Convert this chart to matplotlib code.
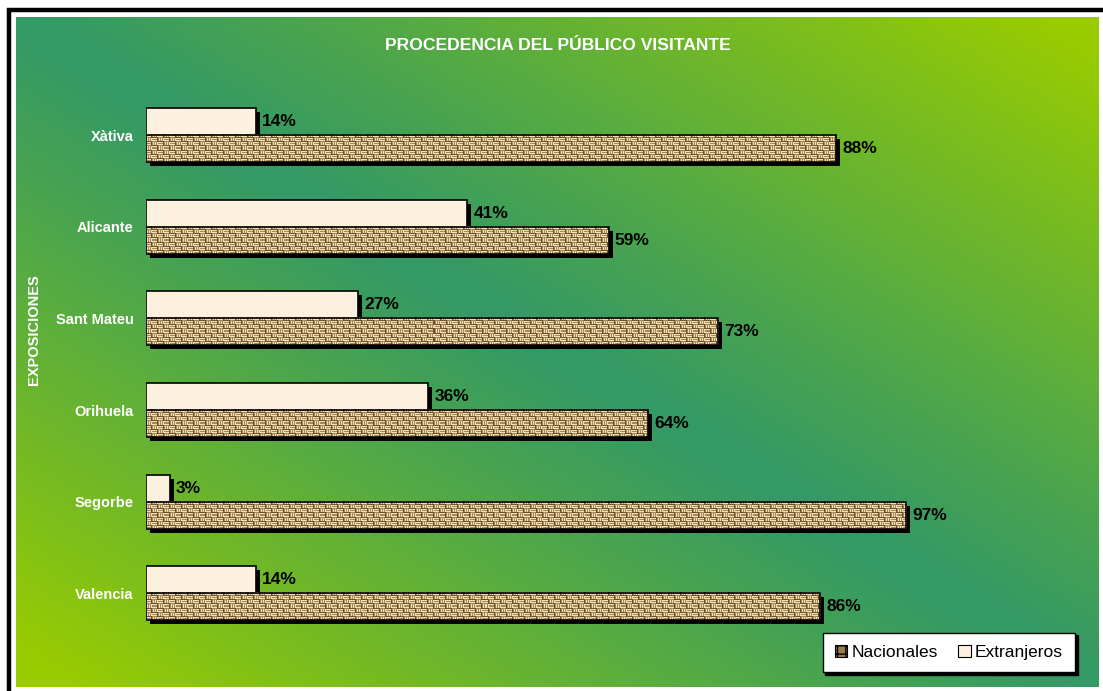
import numpy as np
import matplotlib
matplotlib.use('Agg')
import matplotlib.pyplot as plt
import matplotlib.patches as patches
import matplotlib.transforms as mtransforms
from matplotlib.colors import to_rgb

plt.rcParams['font.family'] = ['Liberation Sans', 'DejaVu Sans']

# data
exposiciones = ['Valencia', 'Segorbe', 'Orihuela', 'Sant Mateu', 'Alicante', 'Xàtiva']
nacionales = [86, 97, 64, 73, 59, 88]
extranjeros = [14, 3, 36, 27, 41, 14]
series_names = ['Nacionales', 'Extranjeros']
title = 'PROCEDENCIA DEL PÚBLICO VISITANTE'
ylabel = 'EXPOSICIONES'

W, H = 1103, 691
fig = plt.figure(figsize=(W / 100, H / 100), dpi=100)
fig.patch.set_facecolor('white')

# gradient background
bg = fig.add_axes([16 / W, 4 / H, 1083 / W, 670 / H], zorder=-2)
u = np.linspace(0, 1, 400)[None, :]
v = np.linspace(0, 1, 300)[:, None]
t = np.clip(np.abs(u - v) * 1.05, 0, 1) ** 1.1
c0 = np.array(to_rgb('#339966'))
c1 = np.array(to_rgb('#99cc00'))
grad = c0[None, None, :] * (1 - t[..., None]) + c1[None, None, :] * t[..., None]
bg.imshow(grad, aspect='auto', extent=[0, 1, 0, 1], origin='upper', interpolation='bilinear')
bg.set_axis_off()

# outer black frame (bottom/right cut off)
fig.patches.append(patches.Rectangle((9 / W, -0.05), 1.2, (H - 10) / H + 0.05,
                                     transform=fig.transFigure, fill=False,
                                     edgecolor='black', linewidth=3.2))

ax = fig.add_axes([146 / W, 52 / H, 784 / W, 549.6 / H])
ax.patch.set_alpha(0)

y = np.arange(len(exposiciones))
h = 0.295
shadow = mtransforms.offset_copy(ax.transData, fig=fig, x=4, y=-4, units='dots')


def weave(nrows, ncols):
    # basket weave texture for the "Nacionales" fill
    i = np.arange(nrows)[:, None]
    j = np.arange(ncols)[None, :]
    blk = ((i // 4) + (j // 6)) % 2
    horiz = (i % 2 == 0) & (j % 6 != 5)
    vert = (j % 2 == 1) & (i % 4 != 3)
    lit = np.where(blk == 0, horiz, vert)
    edge = np.where(blk == 0, j % 6 == 5, i % 4 == 3)
    dark = np.array(to_rgb('#6e4f28'))
    mid = np.array(to_rgb('#a6875a'))
    light = np.array(to_rgb('#efe0b6'))
    img = np.where(lit[..., None], light, mid)
    img = np.where(edge[..., None], dark, img)
    return img


# shadows
ax.barh(y - h / 2, nacionales, h, color='black', transform=shadow, zorder=1)
ax.barh(y + h / 2, extranjeros, h, color='black', transform=shadow, zorder=1)

# extranjeros
ax.barh(y + h / 2, extranjeros, h, color='#fcf1de', edgecolor='black', linewidth=1.2, zorder=2)

# nacionales with woven texture
bars = ax.barh(y - h / 2, nacionales, h, facecolor='none', edgecolor='black', linewidth=1.2, zorder=4)
for b, val in zip(bars, nacionales):
    x0, y0 = b.get_x(), b.get_y()
    img = weave(27, int(round(val * 7.84)))
    ax.imshow(img, extent=[x0, x0 + b.get_width(), y0, y0 + b.get_height()],
              aspect='auto', interpolation='nearest', zorder=3)
ax.set_xlim(0, 100)
ax.set_ylim(-0.5, 5.5)

for yi, val in zip(y, nacionales):
    ax.annotate(f'{val}%', (val, yi - h / 2), xytext=(4.5, 0), textcoords='offset points',
                ha='left', va='center', fontsize=12.5, fontweight='bold', color='black')
for yi, val in zip(y, extranjeros):
    ax.annotate(f'{val}%', (val, yi + h / 2), xytext=(4.5, 0), textcoords='offset points',
                ha='left', va='center', fontsize=12.5, fontweight='bold', color='black')

ax.set_yticks(y)
ax.set_yticklabels(exposiciones, color='white', fontweight='bold', fontsize=10.5)
ax.tick_params(axis='y', length=0, pad=9)
ax.set_xticks([])
for s in ax.spines.values():
    s.set_visible(False)

fig.text(558 / W, 1 - 46 / H, title, ha='center', va='center', color='white',
         fontsize=12.6, fontweight='bold')
fig.text(34 / W, 1 - 330 / H, ylabel, ha='center', va='center', rotation=90,
         color='white', fontsize=10.5, fontweight='bold')

handles = [patches.Patch(facecolor='#9c7c4c', edgecolor='black', hatch='++', linewidth=0.8),
           patches.Patch(facecolor='#fcf1de', edgecolor='black', linewidth=0.8)]
leg = fig.legend(handles, series_names, loc='lower right', bbox_to_anchor=(1075 / W, 19 / H),
                 ncol=2, fontsize=12.5, frameon=True, fancybox=False, shadow={'color': 'black', 'alpha': 1},
                 handlelength=0.7, handleheight=0.7, handletextpad=0.25, columnspacing=1.2,
                 borderpad=0.7, borderaxespad=0)
leg.get_frame().set_edgecolor('black')
leg.get_frame().set_linewidth(1.0)
leg.get_frame().set_facecolor('white')

fig.savefig('out.png', dpi=100)
